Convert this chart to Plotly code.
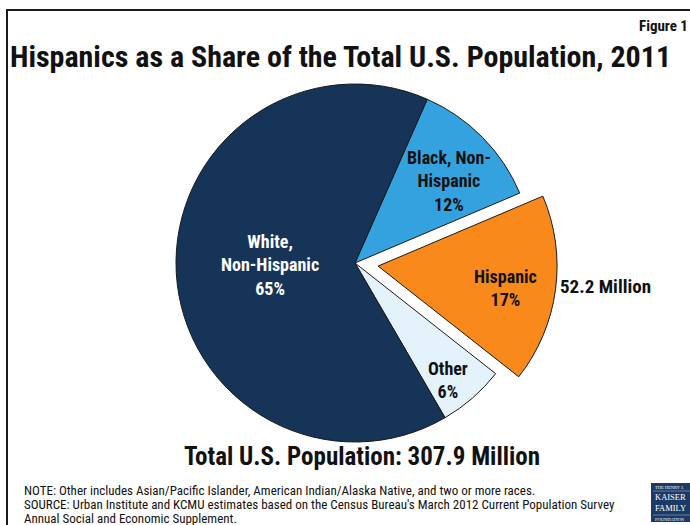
import math
import plotly.graph_objects as go

# Population shares, 2011 (percent of total)
groups = ["Black, Non-Hispanic", "Hispanic", "Other", "White, Non-Hispanic"]
label_lines = ["Black, Non-<br>Hispanic", "Hispanic", "Other", "White,<br>Non-Hispanic"]
shares = [12, 17, 6, 65]
pulls = [0, 0.13, 0, 0]
colors = ["#35A2E0", "#F8891A", "#E4F2FB", "#153457"]
text_colors = ["#111111", "#111111", "#111111", "#FFFFFF"]
# label placement: fraction of radius and angular nudge (degrees) from the bisector
label_radius = [0.70, 0.72, 0.835, 0.475]
label_nudge = [3.5, 1.8, 2.5, 1.9]

total_pop = "307.9 Million"
hispanic_pop = "52.2 Million"

W, H = 690, 525
CX, CY, R = 355, 263, 179   # pie centre / radius in pixels
START = 23.8                # clockwise offset of the first slice from 12 o'clock
max_pull = max(pulls)
half = R * (1 + max_pull)

FONT = "Roboto Condensed, DejaVu Sans Condensed, Liberation Sans Narrow, sans-serif"


def px2paper(x, y):
    return x / W, 1 - y / H


fig = go.Figure(go.Pie(
    labels=groups,
    values=shares,
    sort=False,
    direction="clockwise",
    rotation=START,
    pull=pulls,
    marker=dict(colors=colors, line=dict(color="#1a1a1a", width=1)),
    textinfo="none",
    hoverinfo="label+percent",
    domain=dict(x=[(CX - half) / W, (CX + half) / W],
                y=[(H - CY - half) / H, (H - CY + half) / H]),
    showlegend=False,
))


def note(x, y, text, size, color="#111111", xanchor="center", family=FONT):
    px, py = px2paper(x, y)
    fig.add_annotation(x=px, y=py, xref="paper", yref="paper", text=text,
                       showarrow=False, xanchor=xanchor, yanchor="middle",
                       align="center" if xanchor == "center" else xanchor,
                       font=dict(family=family, size=size, color=color))


# slice labels placed along each slice's bisector
total = sum(shares)
acc = 0.0
for name, lines, v, p, tc, fr, nd in zip(groups, label_lines, shares, pulls,
                                         text_colors, label_radius, label_nudge):
    mid = START + (acc + v / 2) / total * 360
    acc += v
    a = math.radians(mid + nd)
    lx = CX + R * (fr + p) * math.sin(a)
    ly = CY - R * (fr + p) * math.cos(a)
    note(lx, ly, f"<b>{lines}<br>{v}%</b>", 18, tc)
    if name == "Hispanic":
        ox = CX + R * (1 + p) * math.sin(a) + 3
        note(ox, ly - 1, f"<b>{hispanic_pop}</b>", 19, xanchor="left")

note(8, 56, "<b>Hispanics as a Share of the Total U.S. Population, 2011</b>", 30, xanchor="left")
note(690, 26, "<b>Figure 1</b>", 15, xanchor="right")
note(362, 456, f"<b>Total U.S. Population: {total_pop}</b>", 25)

notes = [
    "NOTE: Other includes Asian/Pacific Islander, American Indian/Alaska Native, and two or more races.",
    "SOURCE: Urban Institute and KCMU estimates based on the Census Bureau's March 2012 Current Population Survey",
    "Annual Social and Economic Supplement.",
]
for i, line in enumerate(notes):
    note(22, 490 + 14 * i, line, 13, xanchor="left")

# outer frame
fig.add_shape(type="rect", xref="paper", yref="paper",
              x0=7 / W, x1=1.01, y0=-0.02, y1=1 - 10 / H,
              line=dict(color="#1a1a1a", width=2), fillcolor="rgba(0,0,0,0)")

# foundation logo block
fig.add_shape(type="rect", xref="paper", yref="paper",
              x0=651 / W, x1=1.01, y0=1 - 522 / H, y1=1 - 483 / H,
              line=dict(width=0), fillcolor="#1B3A66")
for yy in (491, 515):
    fig.add_shape(type="line", xref="paper", yref="paper",
                  x0=653 / W, x1=1, y0=1 - yy / H, y1=1 - yy / H,
                  line=dict(color="#9fb0c8", width=0.6))
serif = "Liberation Serif, DejaVu Serif, serif"
for txt, yy, sz in [("THE HENRY J.", 487, 4.5), ("KAISER", 497, 8.5),
                    ("FAMILY", 508, 8.5), ("FOUNDATION", 519, 4.5)]:
    note(653, yy, txt, sz, "#FFFFFF", xanchor="left", family=serif)

fig.update_layout(width=W, height=H, margin=dict(l=0, r=0, t=0, b=0),
                  paper_bgcolor="#FFFFFF", plot_bgcolor="#FFFFFF")
fig.write_html("out.html")
